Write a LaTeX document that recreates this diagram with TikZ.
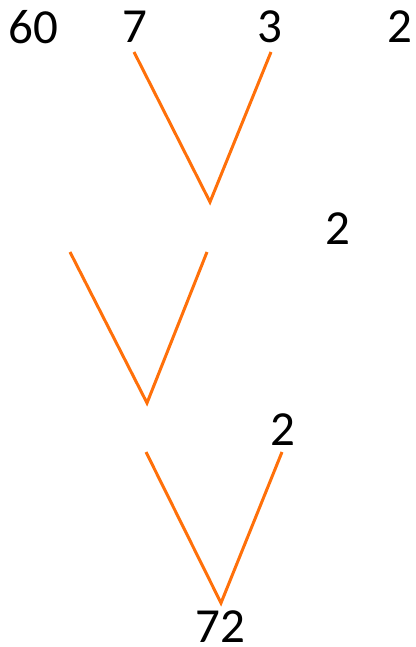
\documentclass[tikz,border=0pt]{standalone}
\usepackage{fontspec}
\setmainfont{Carlito}
\definecolor{lineorange}{RGB}{255,112,10}
\begin{document}
\begin{tikzpicture}[x=0.5pt,y=-0.5pt,
  num/.style={inner sep=0pt,font=\fontsize{24.5}{28}\selectfont,text=black},
  vline/.style={draw=lineorange,line width=1.5pt}]
\useasboundingbox (0,0) rectangle (416,647);
\node[num] (n60) at (33,27) {60};
\node[num] (n7) at (135,27) {7};
\node[num] (n3) at (270,27) {3};
\node[num] (n2a) at (400,27) {2};
\node[num] (n2b) at (338,229) {2};
\node[num] (n2c) at (283,430) {2};
\node[num] (n72) at (220,627) {72};
\coordinate (a1) at (134,52);
\coordinate (a2) at (210,202);
\coordinate (a3) at (271,52);
\coordinate (b1) at (70,252);
\coordinate (b2) at (147,403);
\coordinate (b3) at (207,252);
\coordinate (c1) at (146,452);
\coordinate (c2) at (221,603);
\coordinate (c3) at (282,452);
\draw[vline] (a1) -- (a2) -- (a3);
\draw[vline] (b1) -- (b2) -- (b3);
\draw[vline] (c1) -- (c2) -- (c3);
\end{tikzpicture}
\end{document}
